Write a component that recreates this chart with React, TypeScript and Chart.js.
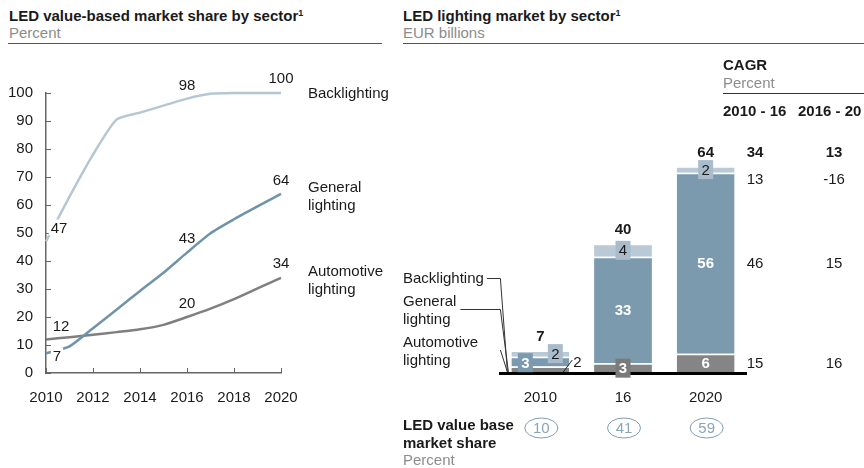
import React, { useEffect, useRef } from "react";
import { Chart, registerables } from "chart.js";

Chart.register(...registerables);

const FONT = '"Liberation Sans", Arial, Helvetica, sans-serif';
const FS = 15;
const INK = "#1a1a1a";
const GRAY_TXT = "#8c8c8c";

// ---------- Left chart: LED value-based market share by sector (Percent) ----------
const shareYears = [2010, 2011, 2012, 2013, 2014, 2015, 2016, 2017, 2018, 2019, 2020];
const backlightingShare = [47, 63, 78, 90.5, 93, 95.5, 98, 99.7, 100, 100, 100];
const generalShare = [7, 9.5, 16, 22.6, 29.3, 35.8, 43, 49.9, 54.9, 59.5, 64];
const automotiveShare = [12, 12.8, 13.7, 14.6, 15.6, 17.2, 20, 23, 26.4, 30.2, 34];
const shareSeriesNames = [["Backlighting"], ["General", "lighting"], ["Automotive", "lighting"]];
const shareTicksY = [0, 10, 20, 30, 40, 50, 60, 70, 80, 90, 100];
const shareTicksX = [2010, 2012, 2014, 2016, 2018, 2020];
const lineColors = ["#b5c7d3", "#6f93aa", "#7f7f7f"];

// labelled points (series index, year index) + label offsets (style)
const pointLabels = [
  { ds: 0, i: 0, dx: 13, dy: -14, bg: true },
  { ds: 0, i: 6, dx: 0, dy: -14 },
  { ds: 0, i: 10, dx: 0, dy: -15 },
  { ds: 1, i: 0, dx: 11, dy: 2, bg: true },
  { ds: 1, i: 6, dx: 0, dy: -15 },
  { ds: 1, i: 10, dx: 0, dy: -14 },
  { ds: 2, i: 0, dx: 15, dy: -14 },
  { ds: 2, i: 6, dx: 0, dy: -14 },
  { ds: 2, i: 10, dx: 0, dy: -15 },
];

// ---------- Right chart: LED lighting market by sector (EUR billions) ----------
const marketCategories = ["2010", "16", "2020"];
const automotiveMarket = [2, 3, 6];
const generalMarket = [3, 33, 56];
const backlightingMarket = [2, 4, 2];
const marketTotals = [7, 40, 64];
const ledValueShare = [10, 41, 59];
const marketSectorNames = [["Backlighting"], ["General", "lighting"], ["Automotive", "lighting"]];
const cagrPeriods = ["2010 - 16", "2016 - 20"];
const cagrTotal = [34, 13];
const cagrBacklighting = [13, -16];
const cagrGeneral = [46, 15];
const cagrAutomotive = [15, 16];

const barColors = ["#858585", "#7b9aae", "#b9cad6"];

// style of each segment label: [dataset][bar]
const segLabelStyles: any[][] = [
  [
    { kind: "leader" },
    { kind: "box", box: "#7a7a7a", color: "#fff", bold: true },
    { kind: "plain", color: "#fff", bold: true },
  ],
  [
    { kind: "box", dx: -15, dy: 1, box: "#7b9aae", color: "#fff", bold: true },
    { kind: "plain", color: "#fff", bold: true },
    { kind: "plain", color: "#fff", bold: true },
  ],
  [
    { kind: "box", dx: 15, box: "#a9bccb", color: INK },
    { kind: "box", box: "#a9bccb", color: INK },
    { kind: "box", box: "#a9bccb", color: INK },
  ],
];

const leftDeco = {
  id: "leftDeco",
  afterDatasetsDraw(chart: any) {
    const { ctx, chartArea: ca, scales } = chart;
    const xs = scales.x;
    const ys = scales.y;
    ctx.save();
    ctx.strokeStyle = "#666";
    ctx.lineWidth = 1;
    ctx.beginPath();
    shareTicksY.forEach((v) => {
      const py = Math.round(ys.getPixelForValue(v)) + 0.5;
      ctx.moveTo(ca.left, py);
      ctx.lineTo(ca.left + 5, py);
    });
    shareTicksX.forEach((v) => {
      const px = Math.round(xs.getPixelForValue(v)) + 0.5;
      ctx.moveTo(px, ca.bottom);
      ctx.lineTo(px, ca.bottom - 5);
    });
    ctx.stroke();

    ctx.font = `${FS}px ${FONT}`;
    ctx.textAlign = "center";
    ctx.textBaseline = "middle";
    pointLabels.forEach((l: any) => {
      const pt = chart.getDatasetMeta(l.ds).data[l.i];
      const v = chart.data.datasets[l.ds].data[l.i].y;
      const txt = String(Math.round(v));
      const tx = pt.x + l.dx;
      const ty = pt.y + l.dy;
      const w = ctx.measureText(txt).width;
      if (l.bg) {
        ctx.fillStyle = "#fff";
        ctx.fillRect(tx - w / 2 - 2, ty - 8, w + 4, 16);
      }
      ctx.fillStyle = INK;
      ctx.fillText(txt, tx, ty + 1);
    });

    ctx.textAlign = "left";
    shareSeriesNames.forEach((lines, ds) => {
      const data = chart.getDatasetMeta(ds).data;
      const last = data[data.length - 1];
      const y0 = last.y - ((lines.length - 1) * 18) / 2 + (lines.length > 1 ? 2 : 0);
      lines.forEach((s, k) => ctx.fillText(s, ca.right + 27, y0 + k * 18 + 1));
    });
    ctx.restore();
  },
};

const rightDeco = {
  id: "rightDeco",
  afterDatasetsDraw(chart: any) {
    const { ctx, chartArea: ca } = chart;
    const bars = (ds: number) => chart.getDatasetMeta(ds).data;
    const base = chart.scales.y.getPixelForValue(0);
    ctx.save();
    ctx.textBaseline = "middle";

    // baseline
    ctx.strokeStyle = "#000";
    ctx.lineWidth = 3;
    ctx.beginPath();
    ctx.moveTo(ca.left, base + 0.5);
    ctx.lineTo(ca.right, base + 0.5);
    ctx.stroke();

    // segment labels
    const segData = [automotiveMarket, generalMarket, backlightingMarket];
    segData.forEach((arr, ds) => {
      const meta = bars(ds);
      arr.forEach((v, i) => {
        const st = segLabelStyles[ds][i];
        const b = meta[i];
        const cy = (b.y + b.base) / 2 + (st.dy || 0);
        const cx = b.x + (st.dx || 0);
        const txt = String(v);
        if (st.kind === "leader") {
          const right = b.x + b.width / 2;
          ctx.strokeStyle = "#222";
          ctx.lineWidth = 1;
          ctx.beginPath();
          ctx.moveTo(right - 6, base - 1);
          ctx.lineTo(right + 3, base - 13);
          ctx.stroke();
          ctx.font = `${FS}px ${FONT}`;
          ctx.textAlign = "left";
          ctx.fillStyle = INK;
          ctx.fillText(txt, right + 4, base - 10);
          return;
        }
        if (st.kind === "box") {
          ctx.fillStyle = st.box;
          ctx.fillRect(cx - 7.5, cy - 9.5, 15, 19);
        }
        ctx.font = `${st.bold ? "bold " : ""}${FS}px ${FONT}`;
        ctx.textAlign = "center";
        ctx.fillStyle = st.color;
        ctx.fillText(txt, cx, cy + 1);
      });
    });

    // totals
    const tops = bars(2);
    ctx.font = `bold ${FS}px ${FONT}`;
    ctx.textAlign = "center";
    ctx.fillStyle = INK;
    marketTotals.forEach((t, i) => ctx.fillText(String(t), tops[i].x, tops[i].y - 14));

    // category labels
    ctx.font = `${FS}px ${FONT}`;
    marketCategories.forEach((c, i) => ctx.fillText(c, tops[i].x, base + 25));

    // LED value base market share ellipses
    ctx.strokeStyle = "#7f9db1";
    ctx.lineWidth = 1;
    ledValueShare.forEach((v, i) => {
      const cx = tops[i].x + 1;
      const cy = base + 55;
      ctx.beginPath();
      ctx.ellipse(cx, cy, 16.5, 10, 0, 0, Math.PI * 2);
      ctx.stroke();
      ctx.fillStyle = "#8aa5b8";
      ctx.fillText(String(v), cx, cy + 1);
    });

    // sector legend with leader lines
    const b0 = bars(0)[0];
    const barLeft = b0.x - b0.width / 2;
    const tx = ca.left - 96;
    ctx.textAlign = "left";
    ctx.fillStyle = INK;
    ctx.font = `${FS}px ${FONT}`;
    const legendY = [[base - 95], [base - 72, base - 54], [base - 31, base - 13]];
    marketSectorNames.forEach((lines, k) => {
      lines.forEach((s, j) => ctx.fillText(s, tx, legendY[k][j] + 1));
    });
    ctx.strokeStyle = "#333";
    ctx.lineWidth = 1;
    const wB = ctx.measureText(marketSectorNames[0][0]).width;
    const wG = ctx.measureText(marketSectorNames[1][0]).width;
    const yB = base - 95;
    const yG = base - 64;
    ctx.beginPath();
    ctx.moveTo(tx + wB + 3, yB + 0.5);
    ctx.lineTo(barLeft - 11, yB + 0.5);
    ctx.lineTo(barLeft - 4, base - 1);
    ctx.moveTo(tx + wG + 4, yG + 0.5);
    ctx.lineTo(barLeft - 11, yG + 0.5);
    ctx.lineTo(barLeft - 3, base - 1);
    ctx.moveTo(barLeft - 11, base - 23);
    ctx.lineTo(barLeft - 4, base - 1);
    ctx.stroke();

    // CAGR values aligned with the 2020 bar
    const last = marketTotals.length - 1;
    const tTop = tops[last];
    const gen = bars(1)[last];
    const aut = bars(0)[last];
    const backSeg = tops[last];
    const rowTotal = tTop.y - 15;
    const rowBack = Math.max((backSeg.y + backSeg.base) / 2, rowTotal + 27);
    const rowGen = (gen.y + gen.base) / 2;
    const rowAut = (aut.y + aut.base) / 2;
    const cols = [ca.right + 8, ca.right + 87];
    const rows: [number[], number, boolean][] = [
      [cagrTotal, rowTotal, true],
      [cagrBacklighting, rowBack, false],
      [cagrGeneral, rowGen, false],
      [cagrAutomotive, rowAut, false],
    ];
    ctx.textAlign = "center";
    rows.forEach(([vals, ry, bold]) => {
      ctx.font = `${bold ? "bold " : ""}${FS}px ${FONT}`;
      vals.forEach((v, c) => ctx.fillText(String(v), cols[c], ry + 1));
    });
    ctx.restore();
  },
};

function LeftChart() {
  const ref = useRef<HTMLCanvasElement | null>(null);
  useEffect(() => {
    if (!ref.current) return;
    const series = [backlightingShare, generalShare, automotiveShare];
    const chart = new Chart(ref.current, {
      type: "line",
      data: {
        datasets: series.map((s, k) => ({
          data: s.map((v, i) => ({ x: shareYears[i], y: v })),
          borderColor: lineColors[k],
          borderWidth: 2.5,
          pointRadius: 0,
          tension: 0.2,
          clip: false,
        })),
      } as any,
      options: {
        responsive: false,
        animation: false,
        events: [],
        layout: { padding: { left: 0, right: 119, top: 43, bottom: 0 } },
        plugins: { legend: { display: false }, tooltip: { enabled: false } },
        scales: {
          x: {
            type: "linear",
            min: 2010,
            max: 2020,
            afterFit: (s: any) => { s.height = 47; },
            afterBuildTicks: (s: any) => { s.ticks = shareTicksX.map((v) => ({ value: v })); },
            grid: { display: false, drawTicks: false },
            border: { display: true, color: "#666", width: 1.5 },
            ticks: {
              padding: 16,
              color: INK,
              font: { family: FONT, size: FS },
              maxRotation: 0,
              callback: (v: any) => String(v),
            },
          },
          y: {
            min: 0,
            max: 100,
            afterFit: (s: any) => { s.width = 46; },
            afterBuildTicks: (s: any) => { s.ticks = shareTicksY.map((v) => ({ value: v })); },
            grid: { display: false, drawTicks: false },
            border: { display: true, color: "#666", width: 1.5 },
            ticks: {
              padding: 13,
              color: INK,
              font: { family: FONT, size: FS },
              callback: (v: any) => String(v),
            },
          },
        },
      } as any,
      plugins: [leftDeco],
    });
    return () => chart.destroy();
  }, []);
  return (
    <canvas
      ref={ref}
      width={400}
      height={370}
      style={{ position: "absolute", left: 0, top: 50, width: 400, height: 370 }}
    />
  );
}

function RightChart() {
  const ref = useRef<HTMLCanvasElement | null>(null);
  useEffect(() => {
    if (!ref.current) return;
    const series = [automotiveMarket, generalMarket, backlightingMarket];
    const chart = new Chart(ref.current, {
      type: "bar",
      data: {
        labels: marketCategories,
        datasets: series.map((s, k) => ({
          data: s,
          backgroundColor: barColors[k],
          borderColor: "#ffffff",
          borderWidth: { top: 1.5, left: 0, right: 0, bottom: 0 },
          borderSkipped: "start",
          barPercentage: 0.7,
          categoryPercentage: 1,
        })),
      } as any,
      options: {
        responsive: false,
        animation: false,
        events: [],
        layout: { padding: { left: 99, right: 117, top: 97, bottom: 95 } },
        plugins: { legend: { display: false }, tooltip: { enabled: false } },
        scales: {
          x: { display: false, stacked: true },
          y: { display: false, stacked: true, min: 0, max: 70 },
        },
      } as any,
      plugins: [rightDeco],
    });
    return () => chart.destroy();
  }, []);
  return (
    <canvas
      ref={ref}
      width={464}
      height={418}
      style={{ position: "absolute", left: 400, top: 50, width: 464, height: 418 }}
    />
  );
}

function T(props: { x: number; cy: number; bold?: boolean; color?: string; children: any }) {
  return (
    <div
      style={{
        position: "absolute",
        left: props.x,
        top: props.cy - 9,
        height: 18,
        lineHeight: "18px",
        fontSize: FS,
        fontWeight: props.bold ? 700 : 400,
        color: props.color || INK,
        whiteSpace: "nowrap",
      }}
    >
      {props.children}
    </div>
  );
}

function Rule(props: { x: number; y: number; w: number; color?: string }) {
  return (
    <div
      style={{
        position: "absolute",
        left: props.x,
        top: props.y,
        width: props.w,
        height: 1,
        background: props.color || "#555",
      }}
    />
  );
}

const sup = { fontSize: 9, position: "relative" as const, top: -5 };

export default function App() {
  return (
    <div
      style={{
        position: "fixed",
        left: 0,
        top: 0,
        width: 864,
        height: 468,
        overflow: "hidden",
        background: "#fff",
        fontFamily: FONT,
      }}
    >
      <LeftChart />
      <RightChart />
      <T x={9} cy={16} bold>
        LED value-based market share by sector<span style={sup}>1</span>
      </T>
      <T x={9} cy={33} color={GRAY_TXT}>Percent</T>
      <Rule x={8} y={43} w={374} />
      <T x={403} cy={16} bold>
        LED lighting market by sector<span style={sup}>1</span>
      </T>
      <T x={403} cy={33} color={GRAY_TXT}>EUR billions</T>
      <Rule x={403} y={43} w={461} />
      <T x={723} cy={65} bold>CAGR</T>
      <T x={723} cy={83} color={GRAY_TXT}>Percent</T>
      <Rule x={723} y={93} w={141} color="#333" />
      <T x={723} cy={111} bold>{cagrPeriods[0]}</T>
      <T x={798} cy={111} bold>{cagrPeriods[1]}</T>
      <T x={403} cy={425} bold>LED value base</T>
      <T x={403} cy={443} bold>market share</T>
      <T x={403} cy={460} color={GRAY_TXT}>Percent</T>
    </div>
  );
}
